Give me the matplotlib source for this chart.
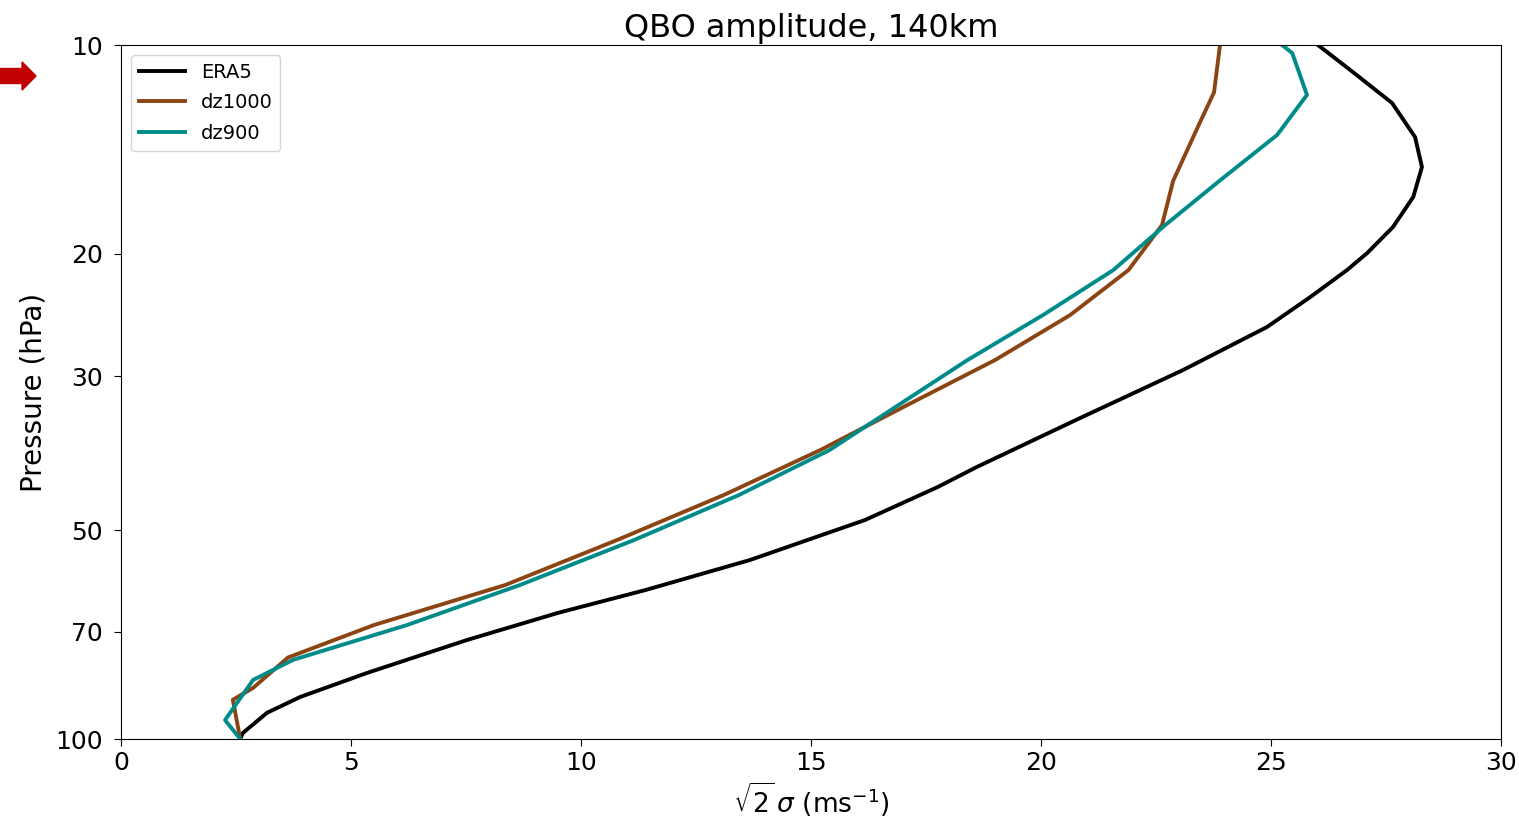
import matplotlib
matplotlib.use("Agg")
import matplotlib.pyplot as plt
import numpy as np
from matplotlib.patches import FancyArrow

# pressure levels (hPa) and sqrt(2)*sigma amplitude (m/s)
p_era5 = [10.0, 10.94, 12.12, 13.57, 14.99, 16.56, 18.29, 19.94, 21.1, 23.08,
          25.49, 29.39, 34.47, 40.56, 43.35, 48.36, 55.22, 61.0, 65.8, 72.0,
          80.3, 87.0, 91.7, 98.0, 100.0]
amp_era5 = [26.02, 26.78, 27.63, 28.13, 28.28, 28.09, 27.65, 27.09, 26.65, 25.85,
            24.91, 23.09, 20.85, 18.6, 17.75, 16.17, 13.67, 11.4, 9.5, 7.52,
            5.35, 3.89, 3.17, 2.65, 2.59]

p_dz1000 = [10.0, 11.7, 13.2, 15.7, 18.17, 21.1, 24.5, 28.44, 33.02, 38.34,
            44.51, 51.68, 60.0, 68.5, 76.3, 84.4, 87.8, 100.0]
amp_dz1000 = [23.89, 23.76, 23.39, 22.87, 22.63, 21.9, 20.63, 19.0, 17.09, 15.2,
              13.1, 10.78, 8.35, 5.5, 3.63, 2.87, 2.43, 2.59]

p_dz900 = [10.0, 10.27, 11.8, 13.48, 15.65, 18.17, 21.1, 24.5, 28.44, 33.02,
           38.34, 44.51, 51.68, 60.0, 68.5, 76.9, 82.2, 93.9, 100.0]
amp_dz900 = [25.24, 25.46, 25.78, 25.13, 23.9, 22.7, 21.57, 20.04, 18.4, 16.9,
             15.4, 13.43, 11.15, 8.67, 6.22, 3.74, 2.87, 2.26, 2.59]

p_ticks = [10, 20, 30, 50, 70, 100]

fig = plt.figure(figsize=(15.19, 8.31), dpi=100)
ax = fig.add_axes([0.0797, 0.1107, 0.9085, 0.8351])

ax.plot(amp_era5, p_era5, color='black', lw=2.8, label='ERA5')
ax.plot(amp_dz1000, p_dz1000, color='#8B4513', lw=2.8, label='dz1000')
ax.plot(amp_dz900, p_dz900, color='#008B8B', lw=2.8, label='dz900')

ax.set_yscale('log')
ax.set_ylim(100, 10)
ax.set_yticks(p_ticks)
ax.set_yticklabels([str(p) for p in p_ticks])
ax.yaxis.set_minor_locator(matplotlib.ticker.NullLocator())
ax.set_xlim(0, 30)
ax.tick_params(labelsize=18, length=5)
ax.tick_params(axis='y', pad=8)

ax.set_xlabel(r'$\sqrt{2}\,\sigma$ (ms$^{-1}$)', fontsize=19)
ax.set_ylabel('Pressure (hPa)', fontsize=20, labelpad=6)
ax.set_title('QBO amplitude, 140km', fontsize=23)
ax.legend(loc='upper left', fontsize=14, handlelength=2.4, labelspacing=0.6)

# red arrow outside the axes
fig.patches.append(FancyArrow(0.0, 1 - 76 / 831, 0.0145, 0.0, width=0.018,
                              head_width=0.034, head_length=0.0092,
                              length_includes_head=False, color='#C00000',
                              transform=fig.transFigure, figure=fig))

fig.savefig('out.png', dpi=100)
